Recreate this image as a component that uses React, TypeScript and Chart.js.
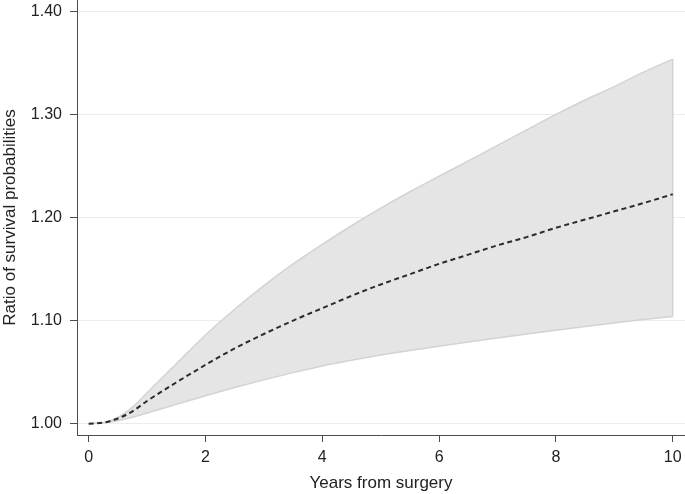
import React, { useEffect, useRef } from "react";
import { Chart, registerables } from "chart.js";

Chart.register(...registerables);

const years = [0, 0.25, 0.5, 0.75, 1, 1.5, 2, 2.5, 3, 3.5, 4, 4.5, 5, 5.5, 6, 6.5, 7, 7.5, 8, 8.5, 9, 9.5, 10];
const ratio = [1.0, 1.001, 1.005, 1.012, 1.022, 1.04, 1.057, 1.073, 1.087, 1.1, 1.112, 1.124, 1.135, 1.145, 1.155, 1.164, 1.173, 1.181, 1.19, 1.198, 1.206, 1.214, 1.2226];
const upper = [1.0, 1.001, 1.006, 1.016, 1.03, 1.058, 1.086, 1.111, 1.134, 1.155, 1.174, 1.192, 1.209, 1.225, 1.24, 1.255, 1.27, 1.285, 1.3, 1.314, 1.327, 1.341, 1.3537];
const lower = [1.0, 1.001, 1.0028, 1.0062, 1.0103, 1.0187, 1.027, 1.035, 1.0425, 1.0495, 1.056, 1.0615, 1.0665, 1.071, 1.0752, 1.0792, 1.0831, 1.0869, 1.0906, 1.0942, 1.0977, 1.1011, 1.104];
const yTicks = [1.0, 1.1, 1.2, 1.3, 1.4];
const xTicks = [0, 2, 4, 6, 8, 10];

const FONT = "'Liberation Sans', Arial, Helvetica, sans-serif";

export default function App() {
  const ref = useRef<HTMLCanvasElement | null>(null);
  useEffect(() => {
    if (!ref.current) return;
    const pts = (ys: number[]) => years.map((x, i) => ({ x, y: ys[i] }));
    const last = years.length - 1;
    const chart = new Chart(ref.current, {
      type: "line",
      data: {
        datasets: [
          {
            label: "lower",
            data: pts(lower),
            borderColor: "#d3d3d3",
            borderWidth: 1.5,
            pointRadius: 0,
            fill: false,
            cubicInterpolationMode: "monotone",
            order: 2,
          },
          {
            label: "upper",
            data: pts(upper),
            borderColor: "#d3d3d3",
            borderWidth: 1.5,
            backgroundColor: "#e5e5e5",
            pointRadius: 0,
            fill: "-1",
            cubicInterpolationMode: "monotone",
            order: 2,
          },
          {
            label: "edge",
            data: [
              { x: years[last], y: lower[last] },
              { x: years[last], y: upper[last] },
            ],
            borderColor: "#d3d3d3",
            borderWidth: 1.5,
            pointRadius: 0,
            fill: false,
            order: 1,
          },
          {
            label: "ratio",
            data: pts(ratio),
            borderColor: "#2b2b2b",
            borderWidth: 2,
            borderDash: [5, 3.5],
            pointRadius: 0,
            fill: false,
            cubicInterpolationMode: "monotone",
            order: 0,
          },
        ],
      },
      options: {
        responsive: false,
        animation: false,
        layout: { padding: 0 },
        plugins: { legend: { display: false }, tooltip: { enabled: false } },
        scales: {
          x: {
            type: "linear",
            min: -0.2,
            max: 10.21,
            afterBuildTicks: (s: any) => {
              s.ticks = xTicks.map((v) => ({ value: v }));
            },
            afterFit: (s: any) => {
              s.height = 59;
              s.paddingLeft = 0;
              s.paddingRight = 0;
            },
            grid: {
              drawOnChartArea: false,
              drawTicks: true,
              tickLength: 7,
              tickColor: "#4d4d4d",
              color: "#4d4d4d",
            },
            border: { display: true, color: "#4d4d4d", width: 1 },
            ticks: {
              color: "#222",
              font: { family: FONT, size: 16 },
              padding: 6,
              maxRotation: 0,
              callback: (v: any) => String(v),
            },
            title: {
              display: true,
              text: "Years from surgery",
              color: "#222",
              font: { family: FONT, size: 17 },
              padding: { top: 0, bottom: 0 },
            },
          },
          y: {
            type: "linear",
            min: 0.989,
            max: 1.411,
            afterBuildTicks: (s: any) => {
              s.ticks = yTicks.map((v) => ({ value: v }));
            },
            afterFit: (s: any) => {
              s.width = 77;
              s.paddingTop = 0;
              s.paddingBottom = 0;
            },
            grid: {
              color: "#ececec",
              lineWidth: 1,
              drawTicks: true,
              tickLength: 7,
              tickColor: "#4d4d4d",
            },
            border: { display: true, color: "#4d4d4d", width: 1 },
            ticks: {
              color: "#222",
              font: { family: FONT, size: 16 },
              padding: 8,
              callback: (v: any) => Number(v).toFixed(2),
            },
            title: {
              display: true,
              text: "Ratio of survival probabilities",
              color: "#222",
              font: { family: FONT, size: 17 },
              padding: { top: 0, bottom: 0 },
            },
          },
        },
      },
    });
    return () => chart.destroy();
  }, []);
  return (
    <canvas
      ref={ref}
      width={685}
      height={494}
      style={{ position: "fixed", left: 0, top: 0, width: 685, height: 494, background: "#fff" }}
    />
  );
}
